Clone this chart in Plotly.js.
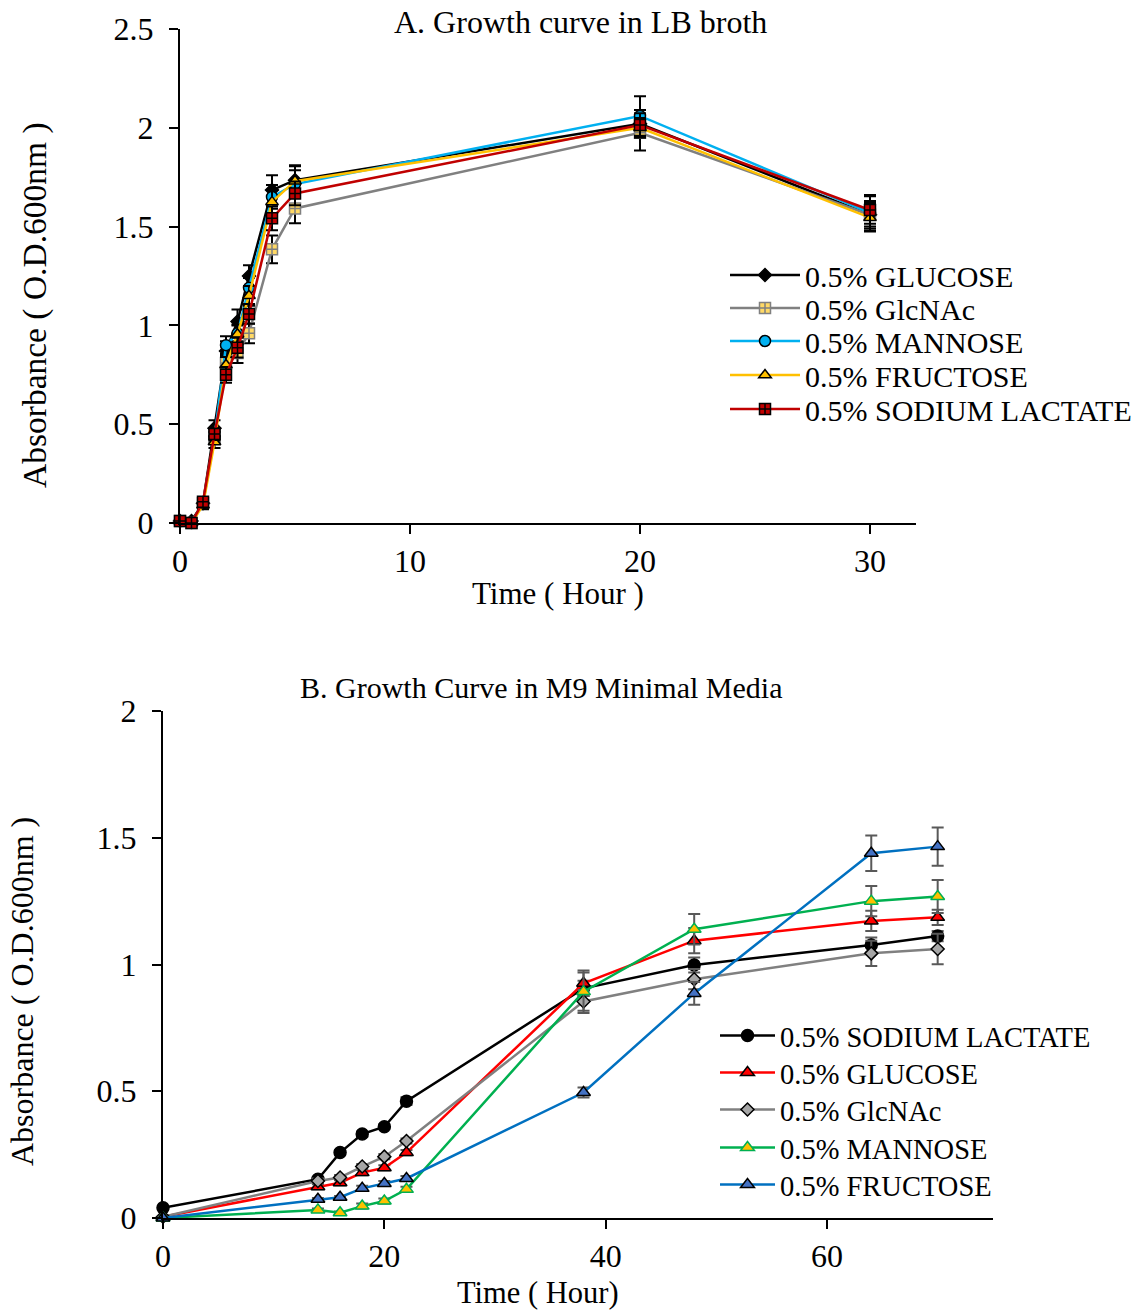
<!DOCTYPE html>
<html>
<head>
<meta charset="utf-8">
<script src="https://cdn.plot.ly/plotly-3.0.1.min.js"></script>
<style>html,body{margin:0;padding:0;background:#fff;}#chart{width:1142px;height:1313px;}</style>
</head>
<body>
<div id="chart"></div>
<script>
// ---------- Panel A data (LB broth) ----------
const timeA = [0, 0.5, 1, 1.5, 2, 2.5, 3, 4, 5, 20, 30];
const glucoseA  = [0.01, 0.01, 0.10, 0.48, 0.87, 1.02, 1.25, 1.685, 1.735, 2.02, 1.56];
const glcnacA   = [0.01, 0.00, 0.10, 0.44, 0.81, 0.86, 0.96, 1.385, 1.592, 1.975, 1.56];
const mannoseA  = [0.01, 0.00, 0.10, 0.43, 0.90, 0.96, 1.19, 1.65, 1.715, 2.06, 1.57];
const fructoseA = [0.01, 0.00, 0.09, 0.41, 0.80, 0.955, 1.15, 1.625, 1.73, 2.00, 1.545];
const lactateA  = [0.01, 0.00, 0.108, 0.45, 0.75, 0.887, 1.058, 1.542, 1.668, 2.014, 1.584];
const glucoseErrA  = [0.01, 0.01, 0.02, 0.04, 0.05, 0.06, 0.055, 0.075, 0.07, 0.07, 0.07];
const glcnacErrA   = [0.01, 0.01, 0.02, 0.03, 0.04, 0.05, 0.05, 0.07, 0.075, 0.09, 0.06];
const mannoseErrA  = [0.01, 0.01, 0.02, 0.03, 0.045, 0.04, 0.05, 0.06, 0.07, 0.10, 0.09];
const fructoseErrA = [0.01, 0.01, 0.02, 0.03, 0.04, 0.05, 0.05, 0.06, 0.08, 0.05, 0.07];
const lactateErrA  = [0.01, 0.01, 0.02, 0.03, 0.04, 0.05, 0.05, 0.06, 0.06, 0.06, 0.07];

// ---------- Panel B data (M9 minimal media) ----------
const timeB = [0, 14, 16, 18, 20, 22, 38, 48, 64, 70];
const lactateB  = [0.04, 0.153, 0.258, 0.331, 0.36, 0.461, 0.906, 0.998, 1.077, 1.112];
const glucoseB  = [0.005, 0.123, 0.139, 0.179, 0.198, 0.258, 0.926, 1.094, 1.172, 1.186];
const glcnacB   = [0.005, 0.146, 0.16, 0.203, 0.242, 0.304, 0.854, 0.942, 1.044, 1.061];
const mannoseB  = [0.0, 0.032, 0.021, 0.047, 0.067, 0.113, 0.893, 1.139, 1.25, 1.268];
const fructoseB = [0.0, 0.074, 0.082, 0.117, 0.136, 0.156, 0.495, 0.886, 1.439, 1.465];
const lactateErrB  = [0.005, 0.01, 0.01, 0.01, 0.01, 0.015, 0.03, 0.03, 0.03, 0.02];
const glucoseErrB  = [0, 0.01, 0.01, 0.01, 0.01, 0.01, 0.05, 0.05, 0.04, 0.03];
const glcnacErrB   = [0, 0.01, 0.01, 0.01, 0.01, 0.01, 0.045, 0.04, 0.05, 0.06];
const mannoseErrB  = [0, 0.005, 0.005, 0.01, 0.01, 0.01, 0.075, 0.06, 0.06, 0.065];
const fructoseErrB = [0, 0.005, 0.005, 0.01, 0.01, 0.01, 0.02, 0.045, 0.07, 0.075];

const ticksA_x = [0, 10, 20, 30];
const ticksA_y = [0, 0.5, 1, 1.5, 2, 2.5];
const tickTextA_y = ['0', '0.5', '1', '1.5', '2', '2.5'];
const ticksB_x = [0, 20, 40, 60];
const ticksB_y = [0, 0.5, 1, 1.5, 2];
const tickTextB_y = ['0', '0.5', '1', '1.5', '2'];

// ---------- helpers ----------
const W = 1142, H = 1313;
const px = v => v / W;
const py = v => 1 - v / H;
const FONT = 'Liberation Serif, Times New Roman, serif';

function tr(name, x, y, err, xa, ya, lineColor, sym, fill, edge, size, errColor, legendId) {
  return {
    type: 'scatter', mode: 'lines+markers', name: name, x: x, y: y,
    xaxis: xa, yaxis: ya, cliponaxis: false, legend: legendId, showlegend: true,
    line: {color: lineColor, width: 2.5},
    marker: {symbol: sym, color: fill, size: size, line: {color: edge, width: 1.5}},
    error_y: {type: 'data', array: err, visible: true, color: errColor, thickness: 2, width: 6}
  };
}

const data = [
  tr('0.5% GLUCOSE', timeA, glucoseA, glucoseErrA, 'x', 'y', '#000000', 'diamond', '#000000', '#000000', 10, '#000000', 'legend'),
  tr('0.5% GlcNAc', timeA, glcnacA, glcnacErrA, 'x', 'y', '#808080', 'square-cross', '#FFD966', '#808080', 11, '#000000', 'legend2'),
  tr('0.5% MANNOSE', timeA, mannoseA, mannoseErrA, 'x', 'y', '#00B0F0', 'circle', '#00B0F0', '#000000', 11, '#000000', 'legend3'),
  tr('0.5% FRUCTOSE', timeA, fructoseA, fructoseErrA, 'x', 'y', '#FFC000', 'triangle-up', '#FFC000', '#000000', 11, '#000000', 'legend4'),
  tr('0.5% SODIUM LACTATE', timeA, lactateA, lactateErrA, 'x', 'y', '#C00000', 'square-cross', '#C00000', '#000000', 11, '#000000', 'legend5'),

  tr('0.5% SODIUM LACTATE', timeB, lactateB, lactateErrB, 'x2', 'y2', '#000000', 'circle', '#000000', '#000000', 12, '#595959', 'legend6'),
  tr('0.5% GLUCOSE', timeB, glucoseB, glucoseErrB, 'x2', 'y2', '#FF0000', 'triangle-up', '#FF0000', '#000000', 12, '#595959', 'legend7'),
  tr('0.5% GlcNAc', timeB, glcnacB, glcnacErrB, 'x2', 'y2', '#808080', 'diamond', '#A6A6A6', '#000000', 10, '#595959', 'legend8'),
  tr('0.5% MANNOSE', timeB, mannoseB, mannoseErrB, 'x2', 'y2', '#00B050', 'triangle-up', '#FFC000', '#00B050', 12, '#595959', 'legend9'),
  tr('0.5% FRUCTOSE', timeB, fructoseB, fructoseErrB, 'x2', 'y2', '#0070C0', 'triangle-up', '#4472C4', '#000000', 12, '#595959', 'legend10')
];

function axisBase(extra) {
  return Object.assign({
    showgrid: false, zeroline: false, showline: true, linecolor: '#000', linewidth: 2,
    ticks: 'outside', ticklen: 9, tickwidth: 2, tickcolor: '#000',
    tickfont: {family: FONT, size: 32, color: '#000'}, fixedrange: true
  }, extra);
}

const layout = {
  width: W, height: H,
  showlegend: true,
  margin: {l: 0, r: 0, t: 0, b: 0, pad: 0},
  paper_bgcolor: '#fff', plot_bgcolor: '#fff',
  font: {family: FONT, color: '#000'},
  xaxis: axisBase({domain: [px(180), px(916)], range: [0, 32], tickvals: ticksA_x, anchor: 'y', ticklabelstandoff: 0}),
  yaxis: axisBase({domain: [py(523), py(29)], range: [0, 2.5], tickvals: ticksA_y, ticktext: tickTextA_y, anchor: 'x', ticklabelstandoff: 9}),
  xaxis2: axisBase({domain: [px(163), px(993)], range: [0, 75], tickvals: ticksB_x, anchor: 'y2', ticklabelstandoff: 0}),
  yaxis2: axisBase({domain: [py(1218), py(711)], range: [0, 2], tickvals: ticksB_y, ticktext: tickTextB_y, anchor: 'x2', ticklabelstandoff: 9}),
  annotations: [
    {text: 'A. Growth curve in LB broth', x: px(580), y: py(22), xref: 'paper', yref: 'paper', xanchor: 'center', yanchor: 'middle', showarrow: false, font: {family: FONT, size: 32, color: '#000'}},
    {text: 'Time ( Hour )', x: px(558), y: py(593), xref: 'paper', yref: 'paper', xanchor: 'center', yanchor: 'middle', showarrow: false, font: {family: FONT, size: 31, color: '#000'}},
    {text: 'Absorbance ( O.D.600nm )', x: px(35), y: py(305), xref: 'paper', yref: 'paper', xanchor: 'center', yanchor: 'middle', textangle: -90, showarrow: false, font: {family: FONT, size: 33.5, color: '#000'}},
    {text: 'B. Growth Curve in M9 Minimal Media', x: px(541), y: py(687), xref: 'paper', yref: 'paper', xanchor: 'center', yanchor: 'middle', showarrow: false, font: {family: FONT, size: 30, color: '#000'}},
    {text: 'Time ( Hour)', x: px(538), y: py(1293), xref: 'paper', yref: 'paper', xanchor: 'center', yanchor: 'middle', showarrow: false, font: {family: FONT, size: 30.5, color: '#000'}},
    {text: 'Absorbance ( O.D.600nm )', x: px(22), y: py(992), xref: 'paper', yref: 'paper', xanchor: 'center', yanchor: 'middle', textangle: -90, showarrow: false, font: {family: FONT, size: 32, color: '#000'}}
  ]
};

const legA_y = [275, 308, 341, 375, 409];
const legB_y = [1036, 1073, 1110, 1148, 1185];
function leg(xLeft, yCenter, size, iw) {
  return {x: px(xLeft), y: py(yCenter), xanchor: 'left', yanchor: 'middle', xref: 'paper', yref: 'paper',
          bgcolor: 'rgba(0,0,0,0)', borderwidth: 0, itemwidth: iw, visible: true,
          font: {family: FONT, size: size, color: '#000'}, itemclick: false, itemdoubleclick: false};
}
const legendKeys = ['legend', 'legend2', 'legend3', 'legend4', 'legend5', 'legend6', 'legend7', 'legend8', 'legend9', 'legend10'];
legA_y.forEach((y, i) => { layout[legendKeys[i]] = leg(725, y, 30, 70); });
legB_y.forEach((y, i) => { layout[legendKeys[5 + i]] = leg(715, y, 28.5, 55); });

Plotly.newPlot('chart', data, layout, {displayModeBar: false, staticPlot: true});
</script>
</body>
</html>
